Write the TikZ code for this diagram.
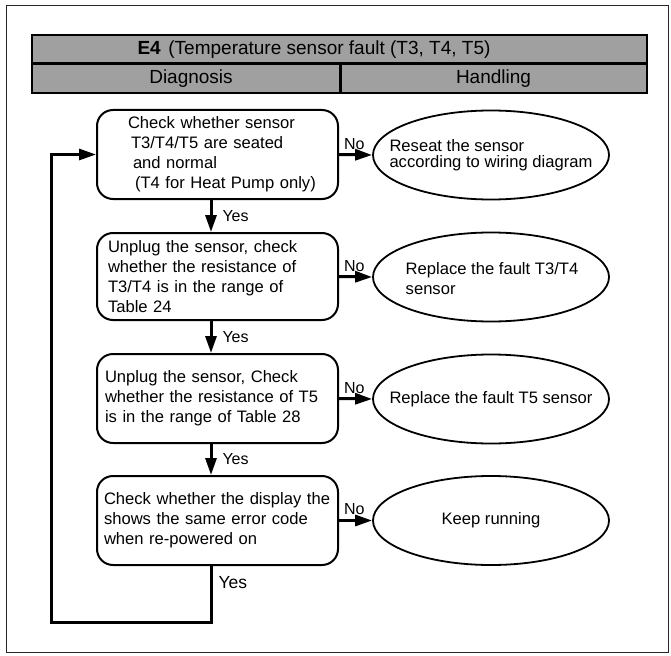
\documentclass[tikz,border=0pt]{standalone}
\usepackage{fontspec}
\setmainfont{Liberation Sans}
\usetikzlibrary{shapes.geometric, arrows.meta}
\definecolor{hdrgray}{RGB}{160,160,160}
\begin{document}
\begin{tikzpicture}[x = 1pt, y = -1pt,
  stepbox/.style = {draw, line width = 2pt, rounded corners = 16pt, minimum width = 241pt, minimum height = 89pt, inner xsep = 4pt, text width = 233pt, align = left, font = \fontsize{16.6}{20}\selectfont},
  endell/.style = {draw, ellipse, line width = 1.8pt, minimum width = 236pt, minimum height = 89pt, inner sep = 0pt},
  endtxt/.style = {align = left, inner sep = 0pt, font = \fontsize{16.6}{20}\selectfont},
  arr/.style = {line width = 3pt, -{Triangle[length = 17pt, width = 11pt]}},
  lbl/.style = {inner sep = 1pt, font = \fontsize{16}{18}\selectfont},
  nolbl/.style = {lbl, above, pos = 0.46, yshift = 3pt},
  yeslbl/.style = {lbl, anchor = west, xshift = 9pt}]
\useasboundingbox (0,0) rectangle (671,655);
\draw [black!85, line width = 1.2pt] (6.5,5.5) rectangle (668.5,652.5);
\draw [line width = 2.5pt, fill = hdrgray] (32,35) rectangle (647,93);
\draw [line width = 3pt] (32,64) -- (647,64);
\draw [line width = 3pt] (340,64) -- (340,93);
\node [font = \fontsize{19}{22}\selectfont] (title) at (314,49.5) {\textbf{E4}\hspace{0.4em}(Temperature sensor fault (T3, T4, T5)};
\node [font = \fontsize{19}{22}\selectfont] (diag) at (191,78.5) {Diagnosis};
\node [font = \fontsize{19}{22}\selectfont] (hand) at (493.5,78.5) {Handling};
\node [stepbox] (b1) at (217.5,154.5) {\hspace*{27pt}Check whether sensor\\ \hspace*{30pt}T3/T4/T5 are seated\\ \hspace*{32pt}and normal\\ \hspace*{34pt}(T4 for Heat Pump only)};
\node [stepbox, minimum height = 87pt] (b2) at (217.5,276.5) {\hspace*{7pt}Unplug the sensor, check\\ \hspace*{7pt}whether the resistance of\\ \hspace*{7pt}T3/T4 is in the range of\\ \hspace*{7pt}Table 24};
\node [stepbox] (b3) at (217.5,398.5) {\hspace*{4pt}Unplug the sensor, Check\\ \hspace*{4pt}whether the resistance of T5\\ \hspace*{4pt}is in the range of Table 28};
\node [stepbox] (b4) at (217.5,520.5) {\hspace*{3pt}Check whether the display the\\ \hspace*{3pt}shows the same error code\\ \hspace*{3pt}when re-powered on};
\node [endell] (e1) at (491,155) {};
\node [endell] (e2) at (491,277) {};
\node [endell] (e3) at (491,399) {};
\node [endell] (e4) at (491,520.5) {};
\node [endtxt, font = \fontsize{16.6}{16}\selectfont] (e1t) at (e1.center) {Reseat the sensor\\according to wiring diagram};
\node [endtxt] (e2t) at (492,279) {Replace the fault T3/T4\\sensor};
\node [endtxt] (e3t) at (e3.center) {Replace the fault T5 sensor};
\node [endtxt] (e4t) at (e4.center) {Keep running};
\coordinate (ax) at (211,0);
\coordinate (lpb) at (51,622);
\draw [arr] (b1.east) -- node [nolbl] (no1) {No} (e1.west);
\draw [arr] (b2.east) -- node [nolbl] (no2) {No} (e2.west);
\draw [arr] (b3.east) -- node [nolbl] (no3) {No} (e3.west);
\draw [arr] (b4.east) -- node [nolbl] (no4) {No} (e4.west);
\draw [arr] (b1.south -| ax) -- node [yeslbl] (yes1) {Yes} (b2.north -| ax);
\draw [arr] (b2.south -| ax) -- node [yeslbl] (yes2) {Yes} (b3.north -| ax);
\draw [arr] (b3.south -| ax) -- node [yeslbl] (yes3) {Yes} (b4.north -| ax);
\draw [arr] (b4.south -| ax) -- node [lbl, anchor = west, pos = 0.3, xshift = 5pt, font = \fontsize{17.5}{20}\selectfont] (yes4) {Yes} (ax |- lpb) -- (lpb) -- (lpb |- b1.west) -- (b1.west);
\end{tikzpicture}
\end{document}
